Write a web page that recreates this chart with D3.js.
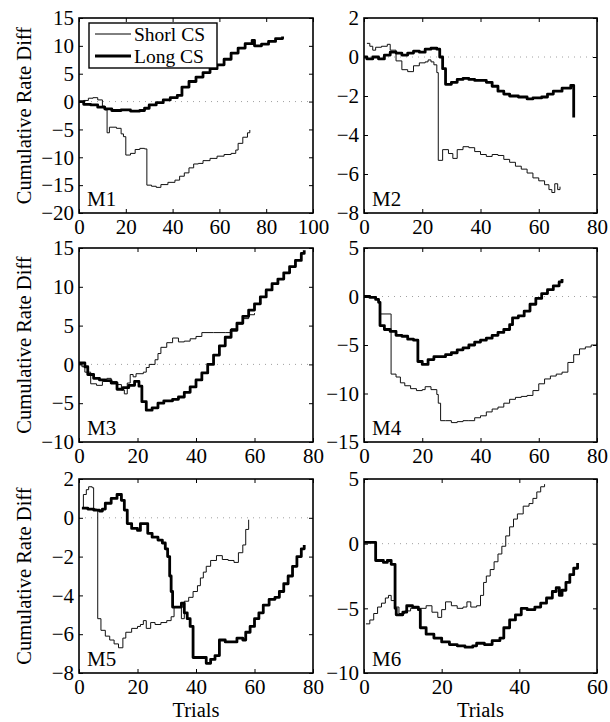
<!DOCTYPE html>
<html>
<head>
<meta charset="utf-8">
<script src="https://cdn.jsdelivr.net/npm/d3@7"></script>
<style>
  body { margin: 0; background: #fff; }
  svg text { font-family: 'Liberation Serif', 'DejaVu Serif', serif; fill: #000; }
</style>
</head>
<body>
<div id="chart"></div>
<script>
// cumulative rate difference per trial: [trial, value]
const m1Short = [[0,0],[2,0.2],[4,0.6],[6,0.7],[8,0.3],[10,-0.8],[11,-1.5],[12,-5.6],[13,-4.6],[16,-4.8],[18,-5.8],[19,-6.3],[20,-9.6],[22,-9.3],[24,-8.6],[26,-8.4],[28,-8.5],[29,-15],[31,-15.2],[33,-15.4],[35,-14.9],[38,-14.5],[41,-14.1],[43,-13.4],[45,-12.8],[47,-11.9],[49,-11.2],[51,-11.1],[53,-10.6],[56,-10.2],[59,-9.8],[62,-9.5],[65,-9.3],[67,-8.7],[68,-7.5],[70,-6.4],[72,-5.6],[73,-5.1]]
const m1Long = [[0,0],[2,-0.5],[5,-0.6],[8,-1],[11,-1.3],[14,-1.6],[18,-1.5],[22,-1.7],[26,-1.6],[28,-1.2],[30,-0.6],[33,-0.2],[36,0.3],[39,0.7],[42,1.1],[44,2.6],[47,3.6],[50,4.4],[53,5.2],[56,5.9],[59,6.6],[62,7.6],[65,8.7],[68,9.6],[71,10.4],[74,11],[75,10.0],[78,10.3],[81,10.8],[84,11.3],[87,11.7]]

const m2Short = [[1,0.7],[2,0.55],[3,0.35],[4,0.5],[6,0.55],[8,0.65],[9,0.35],[11,-0.2],[13,-0.65],[15,-0.75],[17,-0.45],[19,-0.3],[21,-0.25],[22,-0.15],[23,-0.25],[24,-0.4],[25,-0.8],[25.5,-5.3],[27,-4.75],[29,-4.95],[30.5,-5.2],[32,-4.75],[34,-4.6],[36,-4.65],[38,-4.85],[40,-5.0],[42,-5.1],[44,-5.0],[46,-5.05],[48,-5.25],[50,-5.4],[52,-5.6],[54,-5.75],[56,-5.95],[58,-6.2],[60,-6.35],[62,-6.55],[63.5,-6.8],[64.5,-6.95],[65.5,-6.5],[66.5,-6.8],[67.3,-6.65]]
const m2Long = [[0,0],[1,-0.1],[3,0.0],[5,-0.1],[7,0.1],[9,0.25],[11,0.2],[13,0.1],[15,0.2],[17,0.3],[19,0.25],[21,0.4],[23,0.45],[25,0.4],[26,0.0],[27,-0.6],[28,-1.4],[30,-1.3],[32,-1.15],[34,-1.1],[36,-1.15],[38,-1.2],[40,-1.2],[42,-1.3],[44,-1.5],[46,-1.75],[48,-1.9],[50,-2.0],[53,-2.05],[56,-2.15],[58,-2.1],[61,-2.05],[63,-1.9],[65,-1.75],[68,-1.6],[71,-1.45],[72,-3.1]]

const m3Short = [[0,0],[1,-0.3],[2,-1.0],[4,-2.5],[6,-2.7],[8,-2.2],[9.5,-1.8],[11,-2.2],[13,-2.6],[14.5,-3.3],[15.5,-3.8],[16.5,-2.4],[17.5,-1.3],[18.5,-1.6],[19.5,-1.2],[22,-1.0],[23,-0.4],[24,0.0],[26,0.6],[27,1.4],[28,2.2],[30,2.8],[32,3.4],[34,2.9],[36,3.0],[38,3.3],[40,3.6],[42,4.1],[46,4.1],[50,4.1],[52,4.6],[54,5.2],[56,5.9],[58,6.4],[60,6.6]]
const m3Long = [[0,0.2],[2,-0.3],[3,-1.3],[5,-1.8],[7,-2.0],[9,-2.1],[11,-2.4],[13,-3.2],[15,-3.0],[17,-2.7],[19,-2.2],[20.5,-2.8],[21.5,-4.8],[23,-5.9],[25,-5.6],[27,-5.0],[29,-4.7],[32,-4.5],[34,-4.2],[36,-3.6],[38,-2.9],[40,-2.0],[42,-1.1],[44,0.0],[46,1.2],[48,2.4],[50,3.5],[52,4.4],[54,5.3],[56,6.2],[58,7.0],[60,7.8],[62,8.7],[64,9.6],[66,10.4],[68,11.0],[70,11.8],[72,12.6],[74,13.4],[76,14.3],[77,14.7]]

const m4Short = [[0,0],[2,-0.1],[4,-0.3],[5,-0.6],[5.5,-1.8],[9,-1.8],[9.3,-8.0],[11,-8.3],[12.5,-8.9],[14,-9.2],[16,-9.5],[18,-9.7],[20,-9.6],[21,-9.3],[23,-9.6],[25,-10.1],[25.5,-11.0],[26.3,-12.8],[28,-12.8],[30,-13.0],[32,-12.9],[34,-12.8],[36,-12.8],[38,-12.5],[40,-12.3],[42,-11.9],[44,-11.6],[46,-11.4],[48,-11.0],[50,-10.6],[52,-10.4],[54,-10.3],[56,-10.2],[58,-9.7],[60,-9.0],[62,-8.5],[64,-8.2],[66,-8.0],[68,-7.8],[70,-6.8],[72,-6.0],[74,-5.4],[76,-5.2],[78,-5.0],[80,-4.8]]
const m4Long = [[0,0],[2,-0.1],[4,-0.3],[5,-0.6],[5.5,-3.0],[7,-3.4],[9,-3.6],[11,-4.0],[13,-4.1],[15,-4.4],[17,-4.5],[18,-4.5],[18.5,-6.7],[20,-7.0],[22,-6.5],[24,-6.2],[26,-6.2],[28,-6.0],[30,-5.8],[32,-5.5],[34,-5.3],[36,-5.0],[38,-4.7],[40,-4.5],[42,-4.3],[44,-4.0],[46,-3.7],[48,-3.4],[50,-2.9],[51,-2.2],[53,-2.0],[55,-1.5],[57,-0.8],[59,-0.2],[61,0.3],[63,0.7],[65,1.1],[67,1.5],[68,1.8]]

const m5Short = [[1,0.5],[1.5,1.2],[2.5,1.45],[3.3,1.6],[4.5,1.55],[5,0.45],[6,0.4],[6.4,-5.2],[7.5,-5.8],[9,-6.1],[10.5,-6.3],[12,-6.5],[13.5,-6.7],[15,-6.2],[16,-5.9],[18,-5.7],[20,-5.6],[21,-5.5],[22,-5.3],[23,-5.7],[24.5,-5.4],[26,-5.5],[28,-5.4],[30,-5.3],[31.5,-5.1],[32.5,-4.6],[34.5,-4.6],[35,-5.2],[36,-4.3],[37.5,-4.1],[39,-3.8],[40.5,-3.5],[41.5,-3.1],[42.5,-2.8],[43.5,-2.5],[45,-2.2],[47,-1.95],[49,-2.15],[51,-2.2],[53,-2.3],[54.5,-1.8],[56,-1.4],[57,-0.6],[58,-0.1]]
const m5Long = [[1,0.5],[3,0.45],[5,0.4],[7,0.35],[8,0.45],[9,0.75],[11,1.0],[13,1.2],[14.5,0.9],[15.5,0.4],[16.5,-0.3],[18,-0.55],[20,-0.65],[21,-0.3],[22.5,-0.3],[23.5,-0.8],[25,-1.0],[27,-1.15],[28.5,-1.3],[29.5,-1.6],[30.3,-2.0],[31,-3.0],[31.5,-3.8],[32,-4.6],[33.5,-4.6],[35,-4.4],[36,-4.9],[37,-5.2],[38,-5.6],[39,-7.2],[41,-7.2],[42.5,-7.2],[43.5,-7.5],[45,-7.3],[46.5,-7.1],[48,-6.3],[50,-6.4],[52,-6.4],[54,-6.2],[56,-6.3],[57,-5.9],[58.5,-5.6],[60,-5.2],[61.5,-4.9],[63,-4.5],[65,-4.2],[67,-4.1],[68.5,-3.8],[70,-3.4],[71.5,-3.0],[73,-2.5],[74.5,-2.0],[76,-1.6],[77,-1.4]]

const m6Short = [[0.5,-6.2],[1.5,-5.9],[2.5,-5.4],[3.5,-4.9],[4.5,-4.6],[5.5,-4.2],[6.3,-4.0],[7,-4.4],[8,-4.9],[9,-5.4],[10.5,-5.2],[12,-5.0],[14,-5.0],[16,-4.8],[17.5,-5.3],[19,-5.7],[20,-5.1],[21,-4.5],[22.5,-4.8],[24,-5.0],[25.5,-4.9],[26.5,-4.5],[27.5,-4.9],[29,-4.8],[30,-4.0],[30.8,-3.0],[31.5,-2.5],[32.5,-2.0],[33.5,-1.4],[34.5,-0.8],[35.5,-0.2],[36.5,0.6],[37.5,1.3],[38.5,1.9],[39.5,2.3],[41,2.9],[42.5,3.1],[43.5,3.5],[44.5,4.0],[45.5,4.4],[46.5,4.6]]
const m6Long = [[0,0.1],[2.5,0.1],[3,-1.3],[5,-1.45],[6,-1.3],[7,-1.6],[7.8,-1.6],[8,-5.0],[8.3,-5.5],[10,-5.3],[11,-4.8],[12.5,-4.9],[14,-5.1],[14.5,-6.5],[16,-7.0],[18,-7.3],[20,-7.6],[22,-7.8],[24,-7.9],[26,-8.0],[28,-7.9],[29,-7.7],[31,-7.8],[33,-7.5],[35,-7.3],[36,-6.5],[37.5,-5.9],[39,-5.5],[40.5,-5.0],[42,-5.1],[44,-4.9],[45.5,-4.6],[47,-4.2],[48.5,-3.7],[49.5,-3.4],[50.3,-4.0],[51,-3.6],[52,-3.0],[53,-2.4],[54,-1.9],[55,-1.5]]

// axis ranges and tick values per panel
const names = ['M1', 'M2', 'M3', 'M4', 'M5', 'M6']
const xMax = [100, 80, 80, 80, 80, 60]
const xTicks = [[0,20,40,60,80,100], [0,20,40,60,80], [0,20,40,60,80], [0,20,40,60,80], [0,20,40,60,80], [0,20,40,60]]
const yDomains = [[-20,15], [-8,2], [-10,15], [-15,5], [-8,2], [-10,5]]
const yTicks = [[-20,-15,-10,-5,0,5,10,15], [-8,-6,-4,-2,0,2], [-10,-5,0,5,10,15], [-15,-10,-5,0,5], [-8,-6,-4,-2,0,2], [-10,-5,0,5]]
const shortSeries = [m1Short, m2Short, m3Short, m4Short, m5Short, m6Short]
const longSeries = [m1Long, m2Long, m3Long, m4Long, m5Long, m6Long]
const legendLabels = ['Shorl CS', 'Long CS']

const width = 610
const height = 722
const cols = [[79, 313], [364, 597]]
const rows = [[18, 213], [248, 442], [479, 673]]

const svg = d3.select('#chart').append('svg')
  .attr('width', width)
  .attr('height', height)

const fmt = d3.format('')

names.forEach((name, i) => {
  const [x0, x1] = cols[i % 2]
  const [y0, y1] = rows[Math.floor(i / 2)]
  const x = d3.scaleLinear().domain([0, xMax[i]]).range([x0, x1])
  const y = d3.scaleLinear().domain(yDomains[i]).range([y1, y0])

  const g = svg.append('g').attr('class', 'panel')

  g.append('clipPath').attr('id', 'clip' + i)
    .append('rect')
    .attr('x', x0).attr('y', y0)
    .attr('width', x1 - x0).attr('height', y1 - y0)

  // dotted zero line
  g.append('line')
    .attr('x1', x0).attr('x2', x1)
    .attr('y1', y(0)).attr('y2', y(0))
    .attr('stroke', '#888')
    .attr('stroke-width', 0.8)
    .attr('stroke-dasharray', '1,5')

  const line = d3.line()
    .x(d => x(d[0]))
    .y(d => y(d[1]))
    .curve(d3.curveStepAfter)

  const lines = g.append('g').attr('clip-path', 'url(#clip' + i + ')')
  lines.append('path')
    .datum(shortSeries[i])
    .attr('fill', 'none')
    .attr('stroke', '#111')
    .attr('stroke-width', 1)
    .attr('d', line)
  lines.append('path')
    .datum(longSeries[i])
    .attr('fill', 'none')
    .attr('stroke', '#000')
    .attr('stroke-width', 2.8)
    .attr('stroke-linejoin', 'round')
    .attr('d', line)

  // axes, matlab style: inward ticks on all four sides
  const bottom = g.append('g')
    .attr('transform', 'translate(0,' + y1 + ')')
    .call(d3.axisBottom(x).tickValues(xTicks[i]).tickSizeInner(-4).tickSizeOuter(0).tickPadding(6).tickFormat(fmt))
  g.append('g')
    .attr('transform', 'translate(0,' + y0 + ')')
    .call(d3.axisTop(x).tickValues(xTicks[i]).tickSizeInner(-4).tickSizeOuter(0).tickFormat(''))
  const left = g.append('g')
    .attr('transform', 'translate(' + x0 + ',0)')
    .call(d3.axisLeft(y).tickValues(yTicks[i]).tickSizeInner(-4).tickSizeOuter(0).tickPadding(5).tickFormat(fmt))
  g.append('g')
    .attr('transform', 'translate(' + x1 + ',0)')
    .call(d3.axisRight(y).tickValues(yTicks[i]).tickSizeInner(-4).tickSizeOuter(0).tickFormat(''))

  g.selectAll('.domain').remove()
  g.selectAll('.tick line').attr('stroke', '#000').attr('stroke-width', 1)
  g.selectAll('.tick text').attr('font-family', null)
  bottom.selectAll('.tick text').attr('font-size', 21).attr('dy', '0.72em')
  left.selectAll('.tick text').attr('font-size', 21)

  g.append('rect')
    .attr('x', x0).attr('y', y0)
    .attr('width', x1 - x0).attr('height', y1 - y0)
    .attr('fill', 'none')
    .attr('stroke', '#000')
    .attr('stroke-width', 1.6)

  g.append('text')
    .attr('x', x0 + 8)
    .attr('y', y1 - 7)
    .attr('font-size', 21)
    .text(name)

  if (i % 2 === 0) {
    svg.append('text')
      .attr('transform', 'translate(24,' + (y0 + y1) / 2 + ') rotate(-90)')
      .attr('text-anchor', 'middle')
      .attr('dominant-baseline', 'central')
      .attr('font-size', 20.5)
      .text('Cumulative Rate Diff')
  }
  if (i >= 4) {
    svg.append('text')
      .attr('x', (x0 + x1) / 2)
      .attr('y', 717)
      .attr('text-anchor', 'middle')
      .attr('font-size', 20.5)
      .text('Trials')
  }

  if (i === 0) {
    const lg = g.append('g')
    lg.append('rect')
      .attr('x', 89).attr('y', 23)
      .attr('width', 128).attr('height', 45)
      .attr('fill', '#fff')
      .attr('stroke', '#000')
      .attr('stroke-width', 1.4)
    legendLabels.forEach((label, k) => {
      const ly = 34 + k * 22
      lg.append('line')
        .attr('x1', 95).attr('x2', 131)
        .attr('y1', ly).attr('y2', ly)
        .attr('stroke', '#000')
        .attr('stroke-width', k === 0 ? 1 : 2.8)
      lg.append('text')
        .attr('x', 134).attr('y', ly)
        .attr('dominant-baseline', 'central')
        .attr('font-size', 19.5)
        .text(label)
    })
  }
})
</script>
</body>
</html>
